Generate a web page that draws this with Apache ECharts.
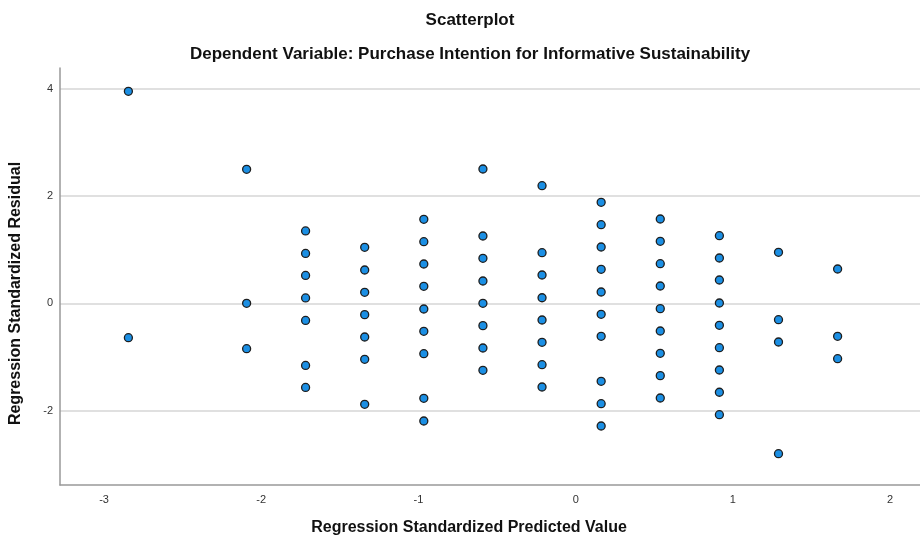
<!DOCTYPE html>
<html>
<head>
<meta charset="utf-8">
<script src="https://cdn.jsdelivr.net/npm/echarts@6/dist/echarts.min.js"></script>
<style>
html,body{margin:0;padding:0;background:#fff;}
#chart{width:920px;height:544px;}
</style>
</head>
<body>
<div id="chart"></div>
<script>
// Regression standardized predicted values (one per vertical column of cases)
const predictedLevels = [-2.845, -2.093, -1.718, -1.342, -0.966, -0.590, -0.214, 0.162, 0.538, 0.914, 1.290, 1.666];
// Regression standardized residuals for each predicted level
const residualsByLevel = [
  [3.955, -0.642],
  [2.50, 0.00, -0.847],
  [1.35, 0.93, 0.52, 0.10, -0.32, -1.16, -1.57],
  [1.045, 0.621, 0.205, -0.212, -0.629, -1.045, -1.884],
  [1.567, 1.149, 0.733, 0.317, -0.106, -0.523, -0.940, -1.773, -2.196],
  [2.506, 1.256, 0.840, 0.416, 0.000, -0.417, -0.834, -1.250],
  [2.194, 0.944, 0.528, 0.104, -0.312, -0.728, -1.145, -1.562],
  [1.884, 1.467, 1.050, 0.634, 0.211, -0.205, -0.616, -1.455, -1.873, -2.289],
  [1.573, 1.157, 0.739, 0.323, -0.100, -0.517, -0.933, -1.350, -1.767],
  [1.261, 0.845, 0.435, 0.006, -0.410, -0.828, -1.244, -1.660, -2.078],
  [0.951, -0.306, -0.722, -2.806],
  [0.640, -0.616, -1.033]
];
const xTickValues = [-3, -2, -1, 0, 1, 2];
const yTickValues = [-2, 0, 2, 4];
const titleText = 'Scatterplot';
const subtitleText = 'Dependent Variable: Purchase Intention for Informative Sustainability';
const xAxisTitle = 'Regression Standardized Predicted Value';
const yAxisTitle = 'Regression Standardized Residual';

const points = [];
predictedLevels.forEach((x, i) => {
  residualsByLevel[i].forEach(y => points.push([x, y]));
});

const font = '"Liberation Sans", Arial, sans-serif';
const chart = echarts.init(document.getElementById('chart'), null, {renderer: 'canvas'});
chart.setOption({
  animation: false,
  backgroundColor: '#ffffff',
  title: [
    {text: titleText, left: 465, top: 7, textAlign: 'center',
     textStyle: {fontFamily: font, fontSize: 17, fontWeight: 'bold', color: '#111'}},
    {text: subtitleText, left: 465, top: 41, textAlign: 'center',
     textStyle: {fontFamily: font, fontSize: 17, fontWeight: 'bold', color: '#111'}}
  ],
  grid: {left: 57, right: 0, top: 68, bottom: 59, containLabel: false},
  xAxis: {
    type: 'value', min: -3.28, max: 2.19,
    name: xAxisTitle, nameLocation: 'middle', nameGap: 35,
    nameTextStyle: {fontFamily: font, fontSize: 16, fontWeight: 'bold', color: '#111', padding: [0, 42, 0, 0]},
    axisLine: {show: true, onZero: false, lineStyle: {color: '#999', width: 1.5}},
    axisTick: {show: false, customValues: xTickValues},
    axisLabel: {customValues: xTickValues, fontFamily: font, fontSize: 11, color: '#333', margin: 9},
    splitLine: {show: false}
  },
  yAxis: {
    type: 'value', min: -3.39, max: 4.39,
    name: yAxisTitle, nameLocation: 'middle', nameGap: 36, nameRotate: 90,
    nameTextStyle: {fontFamily: font, fontSize: 16, fontWeight: 'bold', color: '#111', padding: [0, 34, 0, 0]},
    axisLine: {show: true, onZero: false, lineStyle: {color: '#999', width: 1.5}},
    axisTick: {show: false, customValues: yTickValues},
    axisLabel: {customValues: yTickValues, fontFamily: font, fontSize: 11, color: '#333', margin: 7},
    splitLine: {show: true, lineStyle: {color: '#d6d6d6', width: 1.5}}
  },
  series: [{
    type: 'scatter',
    data: points,
    symbol: 'circle',
    symbolSize: 8,
    itemStyle: {color: '#1b8fe4', borderColor: '#1e1e1e', borderWidth: 1.3, opacity: 1}
  }]
});
</script>
</body>
</html>
